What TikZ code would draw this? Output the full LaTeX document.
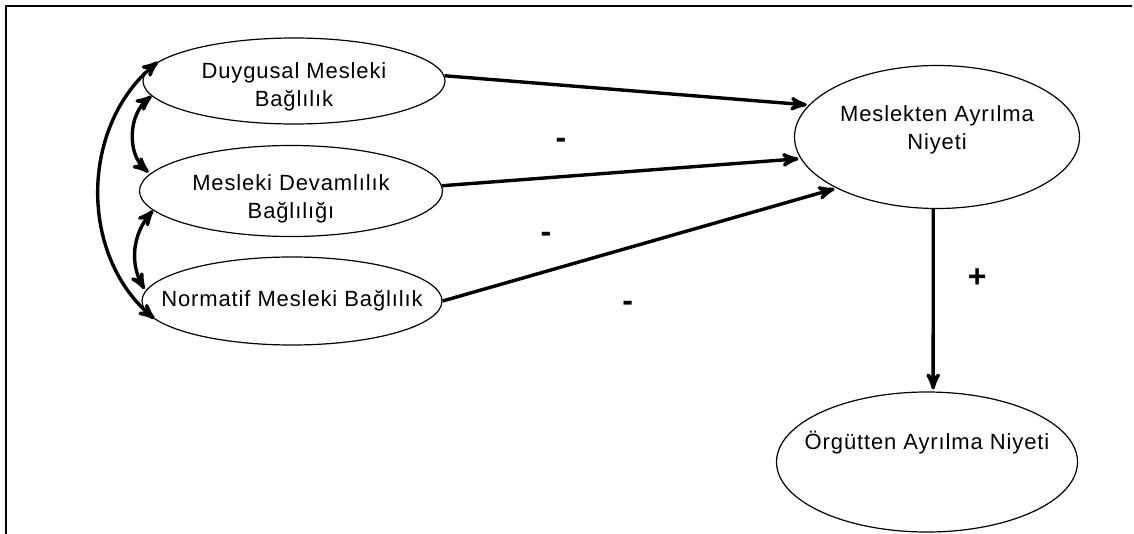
\documentclass[tikz,border=0pt]{standalone}
\usepackage{fontspec}
\setmainfont[LetterSpace=4]{Liberation Sans}
\usetikzlibrary{arrows,shapes.geometric}

\begin{document}
\begin{tikzpicture}[->,>=stealth',shorten >=1pt,x=0.5pt,y=-0.5pt,
	                    line width=1.7pt, inner sep=0pt]
	  \tikzstyle{construct}=[ellipse,draw=black,fill=white,line width=0.6pt]
	  \tikzstyle{caption}=[align=center,font=\fontsize{11}{14}\selectfont]
	  \tikzstyle{sign}=[font=\bfseries\fontsize{16}{16}\selectfont,anchor=center]
	
	  \useasboundingbox (0,0) rectangle (1134,534);
	  \draw[-,line width=1pt] (6,534) -- (6,6) -- (1134,6);
	
	  \node[construct, minimum width=151pt, minimum height=43pt,
	        label={[caption,yshift=-2.75pt]center:{Duygusal Mesleki\\Bağlılık}}]
	        (duygusal) at (294,81) {};
	  \node[construct, minimum width=151.5pt, minimum height=45.5pt,
	        label={[caption,yshift=-4pt]center:{Mesleki Devamlılık\\Bağlılığı}}]
	        (devam) at (291,191) {};
	  \node[construct, minimum width=150pt, minimum height=44pt,
	        label={[caption]center:{Normatif Mesleki Bağlılık}}]
	        (normatif) at (292,301) {};
	  \node[construct, minimum width=142.5pt, minimum height=71.5pt,
	        label={[caption,yshift=3.75pt]center:{Meslekten Ayrılma\\Niyeti}}]
	        (meslekten) at (937,137) {};
	  \node[construct, minimum width=150.5pt, minimum height=70pt,
	        label={[caption,yshift=9.5pt]center:{Örgütten Ayrılma Niyeti}}]
	        (orgut) at (927,462) {};
	
	  \path (duygusal.2)    edge node[sign,pos=.32,yshift=-29pt] {-} (meslekten.166)
	        (devam.2)       edge node[sign,pos=.29,yshift=-30pt] {-} (meslekten.189)
	        (normatif.east) edge node[sign,pos=.47,yshift=-29pt] {-} (meslekten.207)
	        (meslekten.267) edge node[sign,pos=.38,xshift=22pt]  {+} (orgut.85);
	
	  % correlations between the three commitment types
	  \path (duygusal.172) edge [<->, bend right=50] (normatif.188)
	        (duygusal.186) edge [<->, bend right=50] (devam.173)
	        (devam.188)    edge [<->, bend right=35] (normatif.176);
	\end{tikzpicture}
\end{document}
